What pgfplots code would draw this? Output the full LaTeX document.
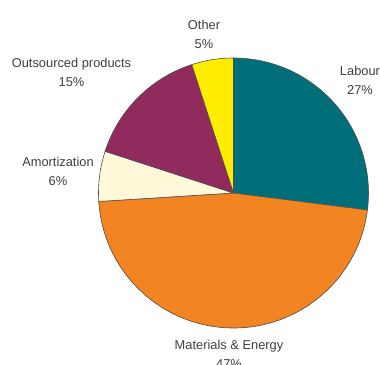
\documentclass[border=0pt]{standalone}
\usepackage{pgfplots}
\pgfplotsset{compat=1.18}
\usepackage{fontspec}
\setmainfont{Liberation Sans}
\definecolor{cLab}{RGB}{0,111,122}
\definecolor{cMat}{RGB}{242,133,34}
\definecolor{cAmo}{RGB}{255,249,218}
\definecolor{cOut}{RGB}{146,43,93}
\definecolor{cOth}{RGB}{255,237,0}
\definecolor{txt}{RGB}{62,62,62}
\tikzset{lbl/.style={align=center,text=txt,inner sep=0pt,font=\fontsize{12.9}{19}\selectfont}}
\begin{document}
\begin{tikzpicture}
\useasboundingbox (0,0) rectangle (380bp,365bp);
\clip (0,0) rectangle (380bp,365bp);
\begin{axis}[at={(0,0)},anchor=south west,scale only axis,width=380bp,height=365bp,
  xmin=0,xmax=380,ymin=0,ymax=365,hide axis,clip=false]
\addplot[draw=none] coordinates {(0,0)};
\pgfplotsextra{
  \gdef\startang{90}
  \foreach \v/\c in {27/cLab,47/cMat,6/cAmo,15/cOut,5/cOth}{
    \pgfmathsetmacro{\endang}{\startang-3.6*\v}
    \filldraw[fill=\c,draw=black!70,line width=0.6pt,line join=round]
      (axis cs:233.5,172) -- ++(\startang:135bp)
      arc[start angle=\startang,end angle=\endang,radius=135bp] -- cycle;
    \xdef\startang{\endang}
  }
}
\node[lbl] at (axis cs:360,284.5) {Labour\\27\%};
\node[lbl] at (axis cs:229,11) {Materials \& Energy\\47\%};
\node[lbl] at (axis cs:58,193.5) {Amortization\\6\%};
\node[lbl] at (axis cs:71.5,292.5) {Outsourced products\\15\%};
\node[lbl] at (axis cs:204,331) {Other\\5\%};
\end{axis}
\end{tikzpicture}
\end{document}
